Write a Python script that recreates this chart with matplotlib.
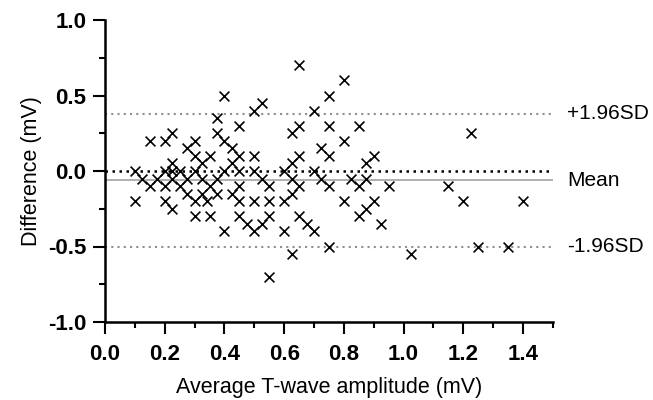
import numpy as np
import matplotlib
matplotlib.use("Agg")
import matplotlib.pyplot as plt
from matplotlib.ticker import MultipleLocator

plt.rcParams['font.family'] = ['Liberation Sans', 'DejaVu Sans']
plt.rcParams['axes.unicode_minus'] = False

# ============================================================
# 数据：平均 T 波幅值 vs 差值 (Bland-Altman)
# ============================================================
avg_amp = [
    0.15, 0.20, 0.225, 0.10, 0.125, 0.20, 0.225, 0.25, 0.275, 0.30,
    0.30, 0.325, 0.35, 0.375, 0.375, 0.30, 0.10, 0.15, 0.175, 0.20,
    0.225, 0.225, 0.20, 0.225, 0.25, 0.275, 0.275, 0.30, 0.30, 0.325,
    0.325, 0.34, 0.35, 0.35, 0.375,
    0.65, 0.40, 0.75, 0.525, 0.50, 0.70, 0.45, 0.65, 0.75, 0.625,
    0.40, 0.425, 0.45, 0.50, 0.65, 0.725, 0.75, 0.425, 0.625, 0.40,
    0.45, 0.50, 0.60, 0.70, 0.375, 0.525, 0.625, 0.725, 0.45, 0.55,
    0.65, 0.75, 0.425, 0.625, 0.45, 0.50, 0.55, 0.60, 0.45, 0.55,
    0.475, 0.525, 0.50, 0.40, 0.65, 0.675, 0.70, 0.60, 0.75, 0.625,
    0.55,
    0.80, 0.85, 0.80, 1.225, 0.875, 0.90, 0.825, 0.875, 0.85, 0.95,
    1.15, 0.80, 0.90, 0.875, 0.85, 0.925, 1.20, 1.40, 1.025, 1.25,
    1.35,
]
difference = [
    0.20, 0.20, 0.25, 0.00, -0.05, 0.00, 0.05, 0.00, 0.15, 0.20,
    0.10, 0.05, 0.10, 0.35, 0.25, 0.00, -0.20, -0.10, -0.05, -0.10,
    0.00, -0.05, -0.20, -0.25, -0.10, -0.05, -0.15, -0.20, -0.30, -0.05,
    -0.15, -0.20, -0.30, -0.10, -0.15,
    0.70, 0.50, 0.50, 0.45, 0.40, 0.40, 0.30, 0.30, 0.30, 0.25,
    0.20, 0.15, 0.10, 0.10, 0.10, 0.15, 0.10, 0.05, 0.05, 0.00,
    0.00, 0.00, 0.00, 0.00, -0.05, -0.05, -0.05, -0.05, -0.10, -0.10,
    -0.10, -0.10, -0.15, -0.15, -0.20, -0.20, -0.20, -0.20, -0.30, -0.30,
    -0.35, -0.35, -0.40, -0.40, -0.30, -0.35, -0.40, -0.40, -0.50, -0.55,
    -0.70,
    0.60, 0.30, 0.20, 0.25, 0.05, 0.10, -0.05, -0.05, -0.10, -0.10,
    -0.10, -0.20, -0.20, -0.25, -0.30, -0.35, -0.20, -0.20, -0.55, -0.50,
    -0.50,
]

# 均值与 95% 一致性界限
bias = -0.06
upper_loa = 0.38
lower_loa = -0.50
line_labels = ['+1.96SD', 'Mean', '-1.96SD']

# ============================================================
# 绘图
# ============================================================
fig = plt.figure(figsize=(6.53, 4.00), dpi=100)
ax = fig.add_axes([0.1608, 0.195, 0.6859, 0.755])

x_max = 1.5
ax.plot([0, x_max], [upper_loa, upper_loa], color='#8f8f8f', lw=1.5,
        linestyle=(0, (1, 2)), zorder=1)
ax.plot([0, x_max], [lower_loa, lower_loa], color='#8f8f8f', lw=1.5,
        linestyle=(0, (1, 2)), zorder=1)
ax.plot([0, x_max], [0, 0], color='black', lw=1.8,
        linestyle=(0, (1, 1.8)), zorder=1)
ax.plot([0, x_max], [bias, bias], color='#9a9a9a', lw=1.1, zorder=1)

ax.scatter(avg_amp, difference, marker='x', s=50, color='black',
           linewidths=1.2, zorder=3)

# 右侧标注
for y, txt in zip([upper_loa, bias, lower_loa], line_labels):
    ax.text(1.547, y, txt, fontsize=15, va='center', ha='left',
            clip_on=False)

ax.set_xlim(0, x_max)
ax.set_ylim(-1.0, 1.0)
ax.xaxis.set_minor_locator(MultipleLocator(0.1))
ax.yaxis.set_major_locator(MultipleLocator(0.5))
ax.yaxis.set_minor_locator(MultipleLocator(0.25))
ax.set_xticks(np.arange(0, 1.41, 0.2))
ax.set_xticklabels([f'{v:.1f}' for v in np.arange(0, 1.41, 0.2)])

for side in ['top', 'right']:
    ax.spines[side].set_visible(False)
for side in ['left', 'bottom']:
    ax.spines[side].set_linewidth(1.8)

ax.tick_params(which='major', length=8.5, width=1.5, labelsize=16, pad=5)
ax.tick_params(which='minor', length=4.5, width=1.5)
ax.tick_params(axis='x', which='major', pad=7)
for lbl in ax.get_xticklabels() + ax.get_yticklabels():
    lbl.set_fontweight('bold')

ax.set_xlabel('Average T-wave amplitude (mV)', fontsize=15.5, labelpad=9)
ax.set_ylabel('Difference (mV)', fontsize=15.5, labelpad=4)

plt.savefig("out.png", dpi=100)
